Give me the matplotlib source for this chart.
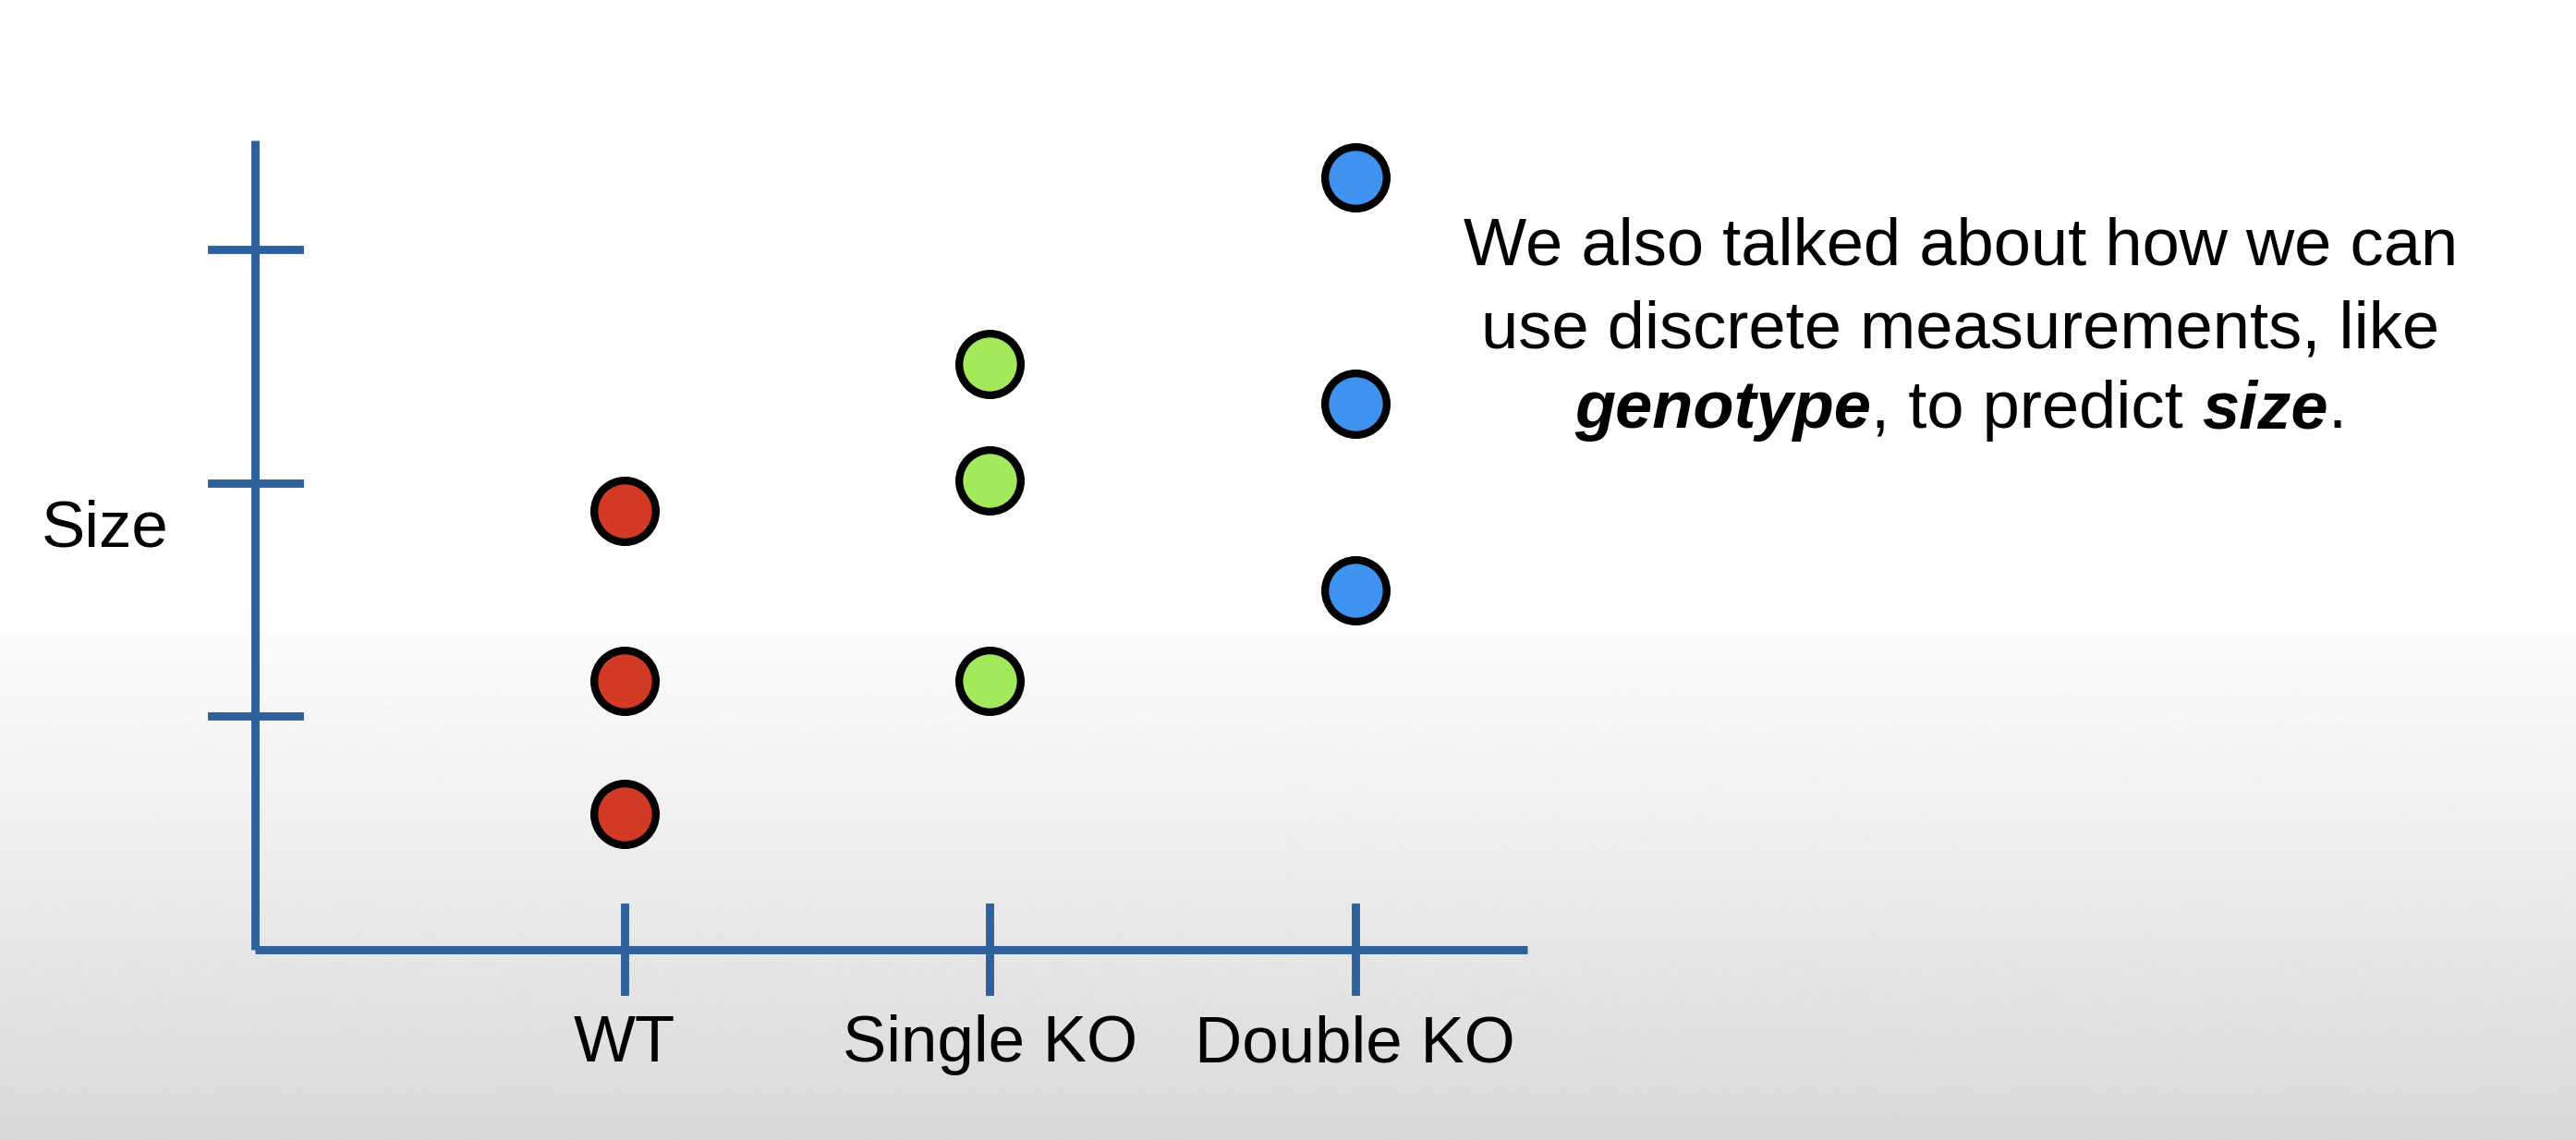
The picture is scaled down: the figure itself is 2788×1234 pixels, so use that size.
import numpy as np
import matplotlib
matplotlib.use("Agg")
import matplotlib.pyplot as plt
from matplotlib.offsetbox import TextArea, HPacker, AnnotationBbox

plt.rcParams["font.family"] = ["Liberation Sans", "DejaVu Sans"]

# Data
categories = ["WT", "Single KO", "Double KO"]
wt_sizes = [1.88, 1.15, 0.58]
single_sizes = [2.51, 2.01, 1.15]
double_sizes = [3.31, 2.34, 1.54]
colors = ["#d23a26", "#a3e95c", "#3f92ef"]
y_ticks = [1, 2, 3]

AXIS = "#2e609c"

fig = plt.figure(figsize=(13.94, 6.17), dpi=200)

# background gradient
bg = fig.add_axes([0, 0, 1, 1], zorder=0)
grad = np.concatenate([np.ones(360), np.linspace(1, 0.85, 334)])[:, None]
bg.imshow(grad, cmap="gray", vmin=0, vmax=1, aspect="auto", extent=[0, 1, 0, 1])
bg.axis("off")

ax = fig.add_axes([0, 0, 1, 1], zorder=1)
ax.patch.set_alpha(0)
ax.axis("off")
ax.set_xlim(-0.708, 6.34)
ax.set_ylim(-0.817, 4.07)

# axes lines
ax.plot([-0.01, -0.01], [0, 3.47], color=AXIS, lw=3.2, solid_capstyle="butt")
ax.plot([-0.01, 3.47], [0, 0], color=AXIS, lw=3.2, solid_capstyle="butt")
for t in y_ticks:
    ax.plot([-0.13, 0.11], [t, t], color=AXIS, lw=3.2)
for i, c in enumerate(categories, 1):
    ax.plot([i, i], [0.18, -0.18], color=AXIS, lw=3.2)
    ax.text(i, -0.41, c, ha="center", va="center", fontsize=25.5)
ax.text(-0.42, 1.8, "Size", ha="center", va="center", fontsize=25.5)

for i, (vals, col) in enumerate(zip([wt_sizes, single_sizes, double_sizes], colors), 1):
    ax.plot([i] * len(vals), vals, "o", ms=24, mfc=col, mec="black", mew=3)

# annotation text
kw = dict(fontsize=26)
fig.text(0.761, 0.783, "We also talked about how we can", ha="center", va="center", **kw)
fig.text(0.761, 0.710, "use discrete measurements, like", ha="center", va="center", **kw)
parts = [
    TextArea("genotype", textprops=dict(fontweight="bold", fontstyle="italic", **kw)),
    TextArea(", to predict ", textprops=kw),
    TextArea("size", textprops=dict(fontweight="bold", fontstyle="italic", **kw)),
    TextArea(".", textprops=kw),
]
box = HPacker(children=parts, pad=0, sep=0, align="baseline")
ab = AnnotationBbox(box, (0.761, 0.640), xycoords="figure fraction", frameon=False,
                    box_alignment=(0.5, 0.5))
fig.add_artist(ab)

fig.savefig("out.png", dpi=200)
